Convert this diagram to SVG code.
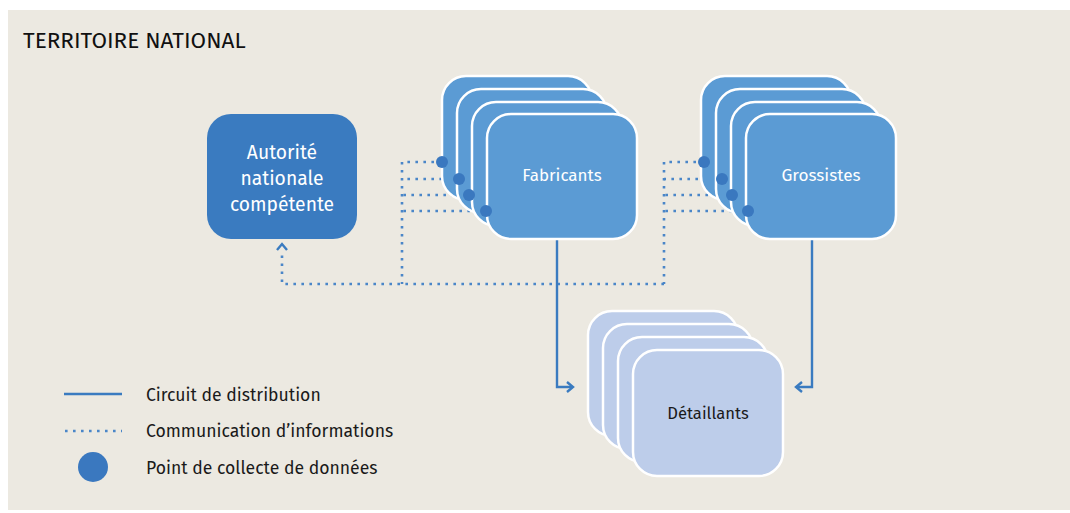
<svg xmlns="http://www.w3.org/2000/svg" width="1070" height="513" viewBox="0 0 1070 513">
  <defs>
    <style>
      .lbl { font-family: "Fira Sans", "Open Sans", "Noto Sans", "Liberation Sans", sans-serif; }
      .card-mid { fill: #5b9bd4; stroke: #ffffff; stroke-width: 2.5; }
      .card-dark { fill: #3a7bc0; }
      .card-light { fill: #bdcdea; stroke: #ffffff; stroke-width: 2.5; }
      .dot { fill: #3a78bf; }
      .info { fill: none; stroke: #4a86c8; stroke-width: 2.6; stroke-dasharray: 2.6 5.4; }
      .flow { fill: none; stroke: #3a7bc0; stroke-width: 2.4; }
      .head { fill: none; stroke: #3a7bc0; stroke-width: 2.4; }
      .white { fill: #ffffff; }
      .dark { fill: #1a1a1a; }
    </style>
  </defs>

  <!-- territory panel -->
  <rect x="8" y="10" width="1062" height="500" fill="#ece9e1"/>
  <text class="lbl" x="23" y="48" font-size="22.5" fill="#111111">TERRITOIRE NATIONAL</text>

  <!-- information and distribution connectors -->
  <g id="connectors">
    <!-- information lines from manufacturers -->
    <path class="info" d="M442 162 H402 V284"/>
    <path class="info" d="M458 179 H402"/>
    <path class="info" d="M470 195 H402"/>
    <path class="info" d="M486 211 H402"/>
    <!-- information lines from wholesalers -->
    <path class="info" d="M704 162 H664 V284"/>
    <path class="info" d="M722 179 H664"/>
    <path class="info" d="M732 195 H664"/>
    <path class="info" d="M748 211 H664"/>
    <!-- collection trunk to the authority -->
    <path class="info" d="M664 284 H282 V250"/>
    <path class="head" d="M277 250 L282 244 L287 250"/>
    <!-- distribution circuit -->
    <path class="flow" d="M557 239 V387 H572"/>
    <path class="head" d="M567 382 L573 387 L567 392"/>
    <path class="flow" d="M812 239 V387 H797"/>
    <path class="head" d="M802 382 L796 387 L802 392"/>
  </g>

  <!-- competent national authority -->
  <g id="autorite">
    <rect class="card-dark" x="207" y="114" width="150" height="125" rx="24"/>
    <text class="lbl white" x="282" y="159" font-size="19.3" text-anchor="middle">Autorité</text>
    <text class="lbl white" x="282" y="185" font-size="19.3" text-anchor="middle">nationale</text>
    <text class="lbl white" x="282" y="211" font-size="19.3" text-anchor="middle">compétente</text>
  </g>

  <!-- manufacturers -->
  <g id="fabricants">
    <rect class="card-mid" x="442" y="76" width="150" height="124" rx="24"/>
    <rect class="card-mid" x="457" y="89" width="150" height="124" rx="24"/>
    <rect class="card-mid" x="472" y="102" width="150" height="124" rx="24"/>
    <rect class="card-mid" x="487" y="114" width="150" height="125" rx="24"/>
    <circle class="dot" cx="442" cy="162" r="6"/>
    <circle class="dot" cx="459" cy="179" r="6"/>
    <circle class="dot" cx="469" cy="195" r="6"/>
    <circle class="dot" cx="486" cy="211" r="6"/>
    <text class="lbl white" x="562" y="181" font-size="17" text-anchor="middle">Fabricants</text>
  </g>

  <!-- wholesalers -->
  <g id="grossistes">
    <rect class="card-mid" x="701" y="76" width="150" height="124" rx="24"/>
    <rect class="card-mid" x="716" y="89" width="150" height="124" rx="24"/>
    <rect class="card-mid" x="731" y="102" width="150" height="124" rx="24"/>
    <rect class="card-mid" x="746" y="114" width="150" height="125" rx="24"/>
    <circle class="dot" cx="704" cy="162" r="6"/>
    <circle class="dot" cx="722" cy="179" r="6"/>
    <circle class="dot" cx="732" cy="195" r="6"/>
    <circle class="dot" cx="748" cy="211" r="6"/>
    <text class="lbl white" x="821" y="181" font-size="17.2" text-anchor="middle">Grossistes</text>
  </g>

  <!-- retailers -->
  <g id="detaillants">
    <rect class="card-light" x="588" y="311" width="150" height="125" rx="24"/>
    <rect class="card-light" x="603" y="324" width="150" height="125" rx="24"/>
    <rect class="card-light" x="618" y="337" width="150" height="125" rx="24"/>
    <rect class="card-light" x="633" y="350" width="150" height="126" rx="24"/>
    <text class="lbl dark" x="708" y="419" font-size="16.6" text-anchor="middle">Détaillants</text>
  </g>

  <!-- legend -->
  <g id="legende">
    <line x1="64" y1="394" x2="122" y2="394" stroke="#3a7bc0" stroke-width="2.6"/>
    <line class="info" x1="65" y1="431" x2="122" y2="431"/>
    <circle class="dot" cx="93" cy="467" r="15"/>
    <text class="lbl dark" x="146" y="401" font-size="17.6">Circuit de distribution</text>
    <text class="lbl dark" x="146" y="437" font-size="17.6">Communication d’informations</text>
    <text class="lbl dark" x="146" y="474" font-size="17.6">Point de collecte de données</text>
  </g>
</svg>
